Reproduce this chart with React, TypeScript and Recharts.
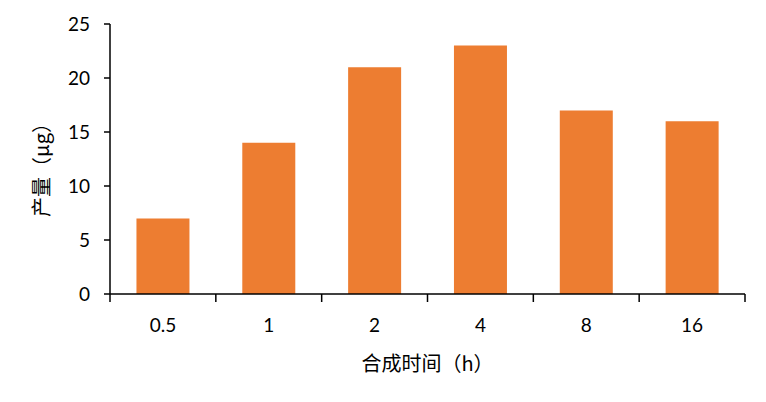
import { BarChart, Bar, XAxis, YAxis } from "recharts";

const hours = ["0.5", "1", "2", "4", "8", "16"];
const yields = [7, 14, 21, 23, 17, 16];
const yTicks = [0, 5, 10, 15, 20, 25];

const rows = hours.map((h, i) => ({ h, v: yields[i] }));

const tickFont = "Lato, 'Noto Sans', sans-serif";
const cjkFont = "'Noto Sans CJK SC', sans-serif";

// category tick: label at the band centre, tick mark at the band edges
function HourTick(props: any) {
  const { x, y, payload, index } = props;
  const half = payload.offset ?? 0;
  const last = index === hours.length - 1;
  return (
    <g>
      <line x1={x - half} x2={x - half} y1={y} y2={y + 8} stroke="#000" strokeWidth={1.5} />
      {last && (
        <line x1={x + half} x2={x + half} y1={y} y2={y + 8} stroke="#000" strokeWidth={1.5} />
      )}
      <text
        x={x}
        y={y + 30}
        textAnchor="middle"
        dominantBaseline="central"
        fontSize={19}
        fontFamily={tickFont}
        fill="#000"
      >
        {payload.value}
      </text>
    </g>
  );
}

export default function App() {
  return (
    <div style={{ position: "absolute", left: 0, top: 0, background: "#fff" }}>
      <BarChart
        width={766}
        height={402}
        data={rows}
        barCategoryGap="25%"
        margin={{ top: 24, right: 21, bottom: 31, left: 30 }}
      >
        <XAxis
          dataKey="h"
          height={77}
          tickSize={0}
          tickMargin={0}
          tick={<HourTick />}
          axisLine={{ stroke: "#000", strokeWidth: 1.5 }}
          tickLine={false}
          interval={0}
          label={{
            value: "合成时间（h）",
            position: "insideBottom",
            offset: 0,
            style: { fontSize: 20, fontFamily: cjkFont, fill: "#000" },
          }}
        />
        <YAxis
          width={80}
          domain={[0, 25]}
          ticks={yTicks}
          interval={0}
          tickSize={6}
          tickMargin={14}
          tick={{ fontSize: 19, fontFamily: tickFont, fill: "#000" }}
          axisLine={{ stroke: "#000", strokeWidth: 1.5 }}
          tickLine={{ stroke: "#000", strokeWidth: 1.5 }}
          label={{
            value: "产量（μg）",
            angle: -90,
            position: "insideLeft",
            offset: 12,
            dy: 6,
            style: { textAnchor: "middle", fontSize: 20, fontFamily: cjkFont, fill: "#000" },
          }}
        />
        <Bar dataKey="v" fill="#ED7D31" isAnimationActive={false} />
      </BarChart>
    </div>
  );
}
